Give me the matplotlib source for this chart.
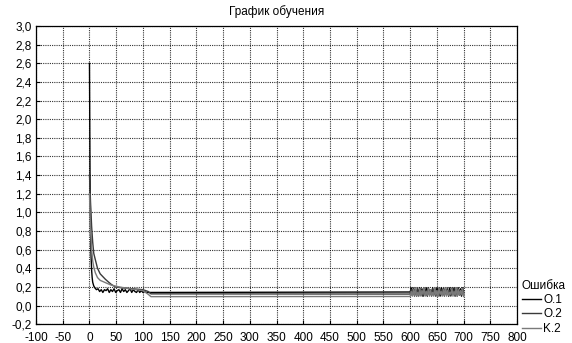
import numpy as np
import matplotlib.pyplot as plt

plt.rcParams['font.family'] = ['Liberation Sans', 'DejaVu Sans']

# --- data: training error curves ---
# descent phase (epochs 0..110)
ep_head_o1 = [0, 1, 2, 3, 4, 5, 6, 8]
o1_head = [2.60, 1.40, 0.80, 0.52, 0.38, 0.30, 0.25, 0.21]
ep_noise_o1 = list(range(10, 111, 3))
o1_noise = [0.19, 0.17, 0.18, 0.15, 0.17, 0.14, 0.17, 0.16, 0.18, 0.14,
            0.17, 0.15, 0.18, 0.14, 0.16, 0.17, 0.14, 0.18, 0.15, 0.17,
            0.14, 0.16, 0.18, 0.14, 0.17, 0.15, 0.14, 0.17, 0.14, 0.16,
            0.14, 0.15, 0.14, 0.14]

ep_o2 = [0, 2, 4, 6, 8, 11, 15, 20, 30, 40, 48, 60, 80, 100, 110, 115]
o2_head = [1.40, 1.10, 0.85, 0.68, 0.56, 0.49, 0.40, 0.34, 0.28, 0.23,
           0.20, 0.19, 0.18, 0.17, 0.15, 0.125]

ep_k2 = [0, 2, 4, 6, 8, 11, 15, 20, 30, 40, 55, 75, 100, 110, 115]
k2_head = [1.20, 0.80, 0.60, 0.48, 0.41, 0.35, 0.30, 0.27, 0.245, 0.22,
           0.20, 0.18, 0.16, 0.12, 0.095]

# plateau levels (epochs up to 600)
plateau = {'O.1': 0.145, 'O.2': 0.123, 'K.2': 0.097}

# oscillating phase (epochs 600..700)
ep_tail = list(range(600, 701, 2))
o1_tail = [0.145, 0.19, 0.11, 0.18, 0.12, 0.19, 0.10, 0.17, 0.13, 0.19,
           0.11, 0.18, 0.10, 0.16, 0.13, 0.19, 0.10, 0.19, 0.12, 0.17,
           0.11, 0.19, 0.12, 0.18, 0.10, 0.19, 0.13, 0.17, 0.10, 0.19,
           0.12, 0.18, 0.11, 0.19, 0.12, 0.16, 0.10, 0.19, 0.11, 0.18,
           0.13, 0.19, 0.10, 0.17, 0.12, 0.19, 0.11, 0.18, 0.10, 0.19,
           0.145]
o2_tail = [0.123, 0.17, 0.11, 0.19, 0.10, 0.16, 0.12, 0.19, 0.10, 0.18,
           0.13, 0.17, 0.10, 0.19, 0.11, 0.16, 0.11, 0.19, 0.12, 0.17,
           0.10, 0.18, 0.11, 0.19, 0.13, 0.16, 0.10, 0.19, 0.12, 0.17,
           0.11, 0.19, 0.10, 0.18, 0.13, 0.19, 0.11, 0.16, 0.10, 0.19,
           0.12, 0.17, 0.11, 0.19, 0.10, 0.18, 0.13, 0.16, 0.11, 0.19,
           0.123]
k2_tail = [0.097, 0.15, 0.10, 0.17, 0.11, 0.19, 0.10, 0.14, 0.11, 0.18,
           0.10, 0.16, 0.12, 0.19, 0.10, 0.15, 0.11, 0.18, 0.10, 0.17,
           0.11, 0.14, 0.10, 0.19, 0.11, 0.16, 0.10, 0.18, 0.12, 0.15,
           0.10, 0.17, 0.11, 0.19, 0.10, 0.16, 0.11, 0.14, 0.12, 0.18,
           0.10, 0.15, 0.11, 0.19, 0.10, 0.17, 0.11, 0.16, 0.12, 0.18,
           0.097]

x_ticks = list(range(-100, 801, 50))
y_ticks = [round(-0.2 + 0.2 * i, 1) for i in range(17)]

fig = plt.figure(figsize=(5.72, 3.43), dpi=100)
ax = fig.add_axes([0.063, 0.055, 0.841, 0.869])

o1_x = ep_head_o1 + ep_noise_o1 + [600] + ep_tail
o1_y = o1_head + o1_noise + [plateau['O.1']] + o1_tail
o2_x = ep_o2 + [600] + ep_tail
o2_y = o2_head + [plateau['O.2']] + o2_tail
k2_x = ep_k2 + [600] + ep_tail
k2_y = k2_head + [plateau['K.2']] + k2_tail

ax.plot(o1_x, o1_y, color='black', lw=1.0, label='O.1')
ax.plot(o2_x, o2_y, color='#3a3a3a', lw=1.0, label='O.2')
ax.plot(k2_x, k2_y, color='#7a7a7a', lw=1.0, label='K.2')

ax.set_xlim(-100, 800)
ax.set_ylim(-0.2, 3.0)
ax.set_xticks(x_ticks)
ax.set_yticks(y_ticks)
ax.set_xticklabels([str(v) for v in x_ticks])
ax.set_yticklabels([f"{v:.1f}".replace('.', ',') for v in y_ticks])
ax.tick_params(direction='in', length=3, labelsize=8.5, width=0.8)
ax.tick_params(axis='x', pad=6)
ax.tick_params(axis='y', pad=3)
ax.grid(True, color='black', linestyle=(0, (1, 1)), lw=0.8, alpha=0.8)
for s in ax.spines.values():
    s.set_linewidth(0.9)

ax.set_title("График обучения", fontsize=8.5, pad=8)

leg = fig.legend(loc='upper left', bbox_to_anchor=(0.9, 0.205),
                 title='Ошибка', fontsize=8.5, title_fontsize=8.5,
                 frameon=False, handlelength=1.6, handletextpad=0.2,
                 labelspacing=0.2, borderpad=0.1, alignment='left')

fig.savefig('out.png', dpi=100)
